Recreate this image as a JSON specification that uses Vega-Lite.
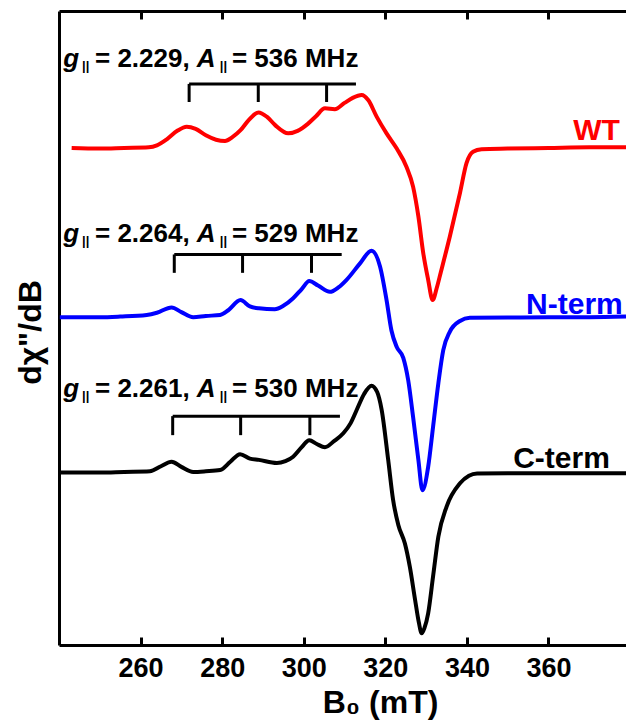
{
  "$schema": "https://vega.github.io/schema/vega-lite/v6.json",
  "width": 567,
  "height": 634,
  "autosize": {"type": "none"},
  "padding": {"left": 59, "top": 11, "right": 0, "bottom": 78},
  "config": {
    "view": {"stroke": null},
    "font": "Liberation Sans",
    "axis": {"grid": false, "domainColor": "black", "tickColor": "black", "labelColor": "black", "titleColor": "black"}
  },
  "datasets": {
    "spectra": [
      {"s": "WT", "B": 243.1, "I": 78.4}, {"s": "WT", "B": 250, "I": 78.3}, {"s": "WT", "B": 256, "I": 78.4}, {"s": "WT", "B": 262, "I": 78.5},
      {"s": "WT", "B": 264, "I": 78.8}, {"s": "WT", "B": 266.5, "I": 79.8}, {"s": "WT", "B": 269, "I": 81.1}, {"s": "WT", "B": 271.3, "I": 81.75},
      {"s": "WT", "B": 273.5, "I": 81.4}, {"s": "WT", "B": 276, "I": 80.4}, {"s": "WT", "B": 278.5, "I": 79.7}, {"s": "WT", "B": 280.7, "I": 79.5},
      {"s": "WT", "B": 282.5, "I": 80.1}, {"s": "WT", "B": 284.5, "I": 81.2}, {"s": "WT", "B": 286.5, "I": 82.8}, {"s": "WT", "B": 288.9, "I": 84.0},
      {"s": "WT", "B": 291, "I": 83.3}, {"s": "WT", "B": 293, "I": 82.0}, {"s": "WT", "B": 296.2, "I": 80.7}, {"s": "WT", "B": 298.5, "I": 81.1},
      {"s": "WT", "B": 301, "I": 82.2}, {"s": "WT", "B": 303, "I": 83.4}, {"s": "WT", "B": 305.2, "I": 84.65}, {"s": "WT", "B": 307.6, "I": 84.5},
      {"s": "WT", "B": 310, "I": 85.5}, {"s": "WT", "B": 312, "I": 86.3}, {"s": "WT", "B": 314.2, "I": 86.75}, {"s": "WT", "B": 315.8, "I": 85.95},
      {"s": "WT", "B": 317.9, "I": 83.3}, {"s": "WT", "B": 320.3, "I": 80.7}, {"s": "WT", "B": 322.8, "I": 78.3}, {"s": "WT", "B": 325.2, "I": 75.4},
      {"s": "WT", "B": 326.8, "I": 72.3}, {"s": "WT", "B": 328.1, "I": 67.6}, {"s": "WT", "B": 329.3, "I": 61.8}, {"s": "WT", "B": 330.5, "I": 57.6},
      {"s": "WT", "B": 331.6, "I": 54.4}, {"s": "WT", "B": 332.6, "I": 56.3}, {"s": "WT", "B": 333.6, "I": 58.8}, {"s": "WT", "B": 335.8, "I": 64.4},
      {"s": "WT", "B": 338.3, "I": 71.3}, {"s": "WT", "B": 339.9, "I": 76.0}, {"s": "WT", "B": 341.5, "I": 77.8}, {"s": "WT", "B": 343.6, "I": 78.2},
      {"s": "WT", "B": 350, "I": 78.3}, {"s": "WT", "B": 360, "I": 78.4}, {"s": "WT", "B": 370, "I": 78.5}, {"s": "WT", "B": 379, "I": 78.5},

      {"s": "N-term", "B": 240.2, "I": 51.7}, {"s": "N-term", "B": 250, "I": 51.7}, {"s": "N-term", "B": 255, "I": 51.8}, {"s": "N-term", "B": 261.5, "I": 52.05},
      {"s": "N-term", "B": 264, "I": 52.4}, {"s": "N-term", "B": 267.6, "I": 53.25}, {"s": "N-term", "B": 270, "I": 52.5}, {"s": "N-term", "B": 272.9, "I": 51.7},
      {"s": "N-term", "B": 276, "I": 51.9}, {"s": "N-term", "B": 279.5, "I": 52.05}, {"s": "N-term", "B": 281.5, "I": 52.8}, {"s": "N-term", "B": 284.5, "I": 54.4},
      {"s": "N-term", "B": 286.8, "I": 53.4}, {"s": "N-term", "B": 289, "I": 53.1}, {"s": "N-term", "B": 292.9, "I": 52.95}, {"s": "N-term", "B": 295, "I": 53.5},
      {"s": "N-term", "B": 297.4, "I": 54.7}, {"s": "N-term", "B": 299.5, "I": 56.15}, {"s": "N-term", "B": 301.35, "I": 57.4}, {"s": "N-term", "B": 303.5, "I": 56.7},
      {"s": "N-term", "B": 306.4, "I": 55.7}, {"s": "N-term", "B": 308.5, "I": 56.4}, {"s": "N-term", "B": 310.5, "I": 57.6}, {"s": "N-term", "B": 313.8, "I": 60.2},
      {"s": "N-term", "B": 316.6, "I": 62.2}, {"s": "N-term", "B": 318.7, "I": 59.7}, {"s": "N-term", "B": 320.3, "I": 54.4}, {"s": "N-term", "B": 321.5, "I": 49.6},
      {"s": "N-term", "B": 322.8, "I": 47.0}, {"s": "N-term", "B": 324.4, "I": 45.3}, {"s": "N-term", "B": 325.6, "I": 41.8}, {"s": "N-term", "B": 326.8, "I": 36.0},
      {"s": "N-term", "B": 328.1, "I": 29.2}, {"s": "N-term", "B": 329.1, "I": 24.4}, {"s": "N-term", "B": 330.5, "I": 28.1}, {"s": "N-term", "B": 331.7, "I": 34.4},
      {"s": "N-term", "B": 333.0, "I": 41.3}, {"s": "N-term", "B": 334.2, "I": 46.5}, {"s": "N-term", "B": 335.8, "I": 49.4}, {"s": "N-term", "B": 338.3, "I": 51.1},
      {"s": "N-term", "B": 340.7, "I": 51.6}, {"s": "N-term", "B": 350, "I": 51.65}, {"s": "N-term", "B": 360, "I": 51.7}, {"s": "N-term", "B": 370, "I": 51.7},
      {"s": "N-term", "B": 379, "I": 51.8},

      {"s": "C-term", "B": 240.2, "I": 27.2}, {"s": "C-term", "B": 250, "I": 27.2}, {"s": "C-term", "B": 256, "I": 27.3}, {"s": "C-term", "B": 262.3, "I": 27.4},
      {"s": "C-term", "B": 265, "I": 28.2}, {"s": "C-term", "B": 267.6, "I": 28.9}, {"s": "C-term", "B": 270, "I": 28.1}, {"s": "C-term", "B": 272.9, "I": 27.3},
      {"s": "C-term", "B": 276, "I": 27.4}, {"s": "C-term", "B": 279.5, "I": 27.6}, {"s": "C-term", "B": 282, "I": 28.9}, {"s": "C-term", "B": 284.4, "I": 30.1},
      {"s": "C-term", "B": 286.8, "I": 29.4}, {"s": "C-term", "B": 289, "I": 29.2}, {"s": "C-term", "B": 293.4, "I": 28.7}, {"s": "C-term", "B": 295.5, "I": 29.0},
      {"s": "C-term", "B": 297.4, "I": 29.7}, {"s": "C-term", "B": 299.5, "I": 31.2}, {"s": "C-term", "B": 301.35, "I": 32.3}, {"s": "C-term", "B": 303.2, "I": 31.7},
      {"s": "C-term", "B": 305.2, "I": 31.2}, {"s": "C-term", "B": 307.5, "I": 32.2}, {"s": "C-term", "B": 309.7, "I": 33.4}, {"s": "C-term", "B": 311.5, "I": 35.0},
      {"s": "C-term", "B": 313.0, "I": 37.1}, {"s": "C-term", "B": 314.8, "I": 39.6}, {"s": "C-term", "B": 316.6, "I": 40.9}, {"s": "C-term", "B": 318, "I": 39.9},
      {"s": "C-term", "B": 319.1, "I": 37.1}, {"s": "C-term", "B": 320.7, "I": 29.2}, {"s": "C-term", "B": 321.9, "I": 22.9}, {"s": "C-term", "B": 323.2, "I": 18.9},
      {"s": "C-term", "B": 324.8, "I": 16.0}, {"s": "C-term", "B": 326.0, "I": 12.35}, {"s": "C-term", "B": 327.3, "I": 7.1}, {"s": "C-term", "B": 328.2, "I": 3.6},
      {"s": "C-term", "B": 328.9, "I": 1.85}, {"s": "C-term", "B": 329.6, "I": 2.7}, {"s": "C-term", "B": 330.5, "I": 5.0}, {"s": "C-term", "B": 331.7, "I": 10.8},
      {"s": "C-term", "B": 333.0, "I": 17.1}, {"s": "C-term", "B": 335.0, "I": 21.8}, {"s": "C-term", "B": 338.3, "I": 25.5}, {"s": "C-term", "B": 340.5, "I": 26.7},
      {"s": "C-term", "B": 342.5, "I": 27.05}, {"s": "C-term", "B": 350, "I": 27.1}, {"s": "C-term", "B": 360, "I": 27.1}, {"s": "C-term", "B": 370, "I": 27.1},
      {"s": "C-term", "B": 379, "I": 27.1}
    ],
    "brackets": [
      {"x": 271.9, "x2": 312.8, "y": 88.5, "y2": 88.5},
      {"x": 271.9, "x2": 271.9, "y": 88.5, "y2": 85.65},
      {"x": 288.85, "x2": 288.85, "y": 88.5, "y2": 85.65},
      {"x": 305.6, "x2": 305.6, "y": 88.5, "y2": 85.65},
      {"x": 268.26, "x2": 309.3, "y": 61.6, "y2": 61.6},
      {"x": 268.26, "x2": 268.26, "y": 61.6, "y2": 58.7},
      {"x": 285.0, "x2": 285.0, "y": 61.6, "y2": 58.7},
      {"x": 301.9, "x2": 301.9, "y": 61.6, "y2": 58.7},
      {"x": 267.87, "x2": 308.87, "y": 36.1, "y2": 36.1},
      {"x": 267.87, "x2": 267.87, "y": 36.1, "y2": 33.1},
      {"x": 284.53, "x2": 284.53, "y": 36.1, "y2": 33.1},
      {"x": 301.5, "x2": 301.5, "y": 36.1, "y2": 33.1}
    ],
    "annot": [
      {"t": "g", "x": 241.05, "y": 91.2, "part": "ital"},
      {"t": "||", "x": 245.64, "y": 91.2, "part": "sub"},
      {"t": "= 2.229,", "x": 248.82, "y": 91.2, "part": "main"},
      {"t": "A", "x": 273.75, "y": 91.2, "part": "ital"},
      {"t": "||", "x": 279.41, "y": 91.2, "part": "sub"},
      {"t": "= 536 MHz", "x": 282.4, "y": 91.2, "part": "main"},
      {"t": "g", "x": 241.05, "y": 63.6, "part": "ital"},
      {"t": "||", "x": 245.64, "y": 63.6, "part": "sub"},
      {"t": "= 2.264,", "x": 248.82, "y": 63.6, "part": "main"},
      {"t": "A", "x": 273.75, "y": 63.6, "part": "ital"},
      {"t": "||", "x": 279.41, "y": 63.6, "part": "sub"},
      {"t": "= 529 MHz", "x": 282.4, "y": 63.6, "part": "main"},
      {"t": "g", "x": 241.05, "y": 39.1, "part": "ital"},
      {"t": "||", "x": 245.64, "y": 39.1, "part": "sub"},
      {"t": "= 2.261,", "x": 248.82, "y": 39.1, "part": "main"},
      {"t": "A", "x": 273.75, "y": 39.1, "part": "ital"},
      {"t": "||", "x": 279.41, "y": 39.1, "part": "sub"},
      {"t": "= 530 MHz", "x": 282.4, "y": 39.1, "part": "main"}
    ],
    "labels": [
      {"t": "WT", "s": "WT", "x": 377.5, "y": 79.65},
      {"t": "N-term", "s": "N-term", "x": 378.2, "y": 52.2},
      {"t": "C-term", "s": "C-term", "x": 375.05, "y": 27.9}
    ]
  },
  "resolve": {"axis": {"x": "independent", "y": "independent"}},
  "layer": [
    {
      "data": {"name": "spectra"},
      "mark": {"type": "line", "strokeWidth": 4, "strokeJoin": "round", "interpolate": "monotone"},
      "encoding": {
        "x": {
          "field": "B", "type": "quantitative",
          "scale": {"domain": [240, 379], "nice": false, "zero": false},
          "axis": {
            "orient": "bottom", "values": [260, 280, 300, 320, 340, 360],
            "domainWidth": 3, "tickWidth": 3, "tickSize": -8,
            "labelFontSize": 27, "labelFontWeight": "bold", "labelPadding": 18,
            "title": "B₀ (mT)", "titleFontSize": 32, "titleFontWeight": "bold",
            "titleX": 321, "titleY": 67, "titleBaseline": "alphabetic", "titleAlign": "center"
          }
        },
        "y": {
          "field": "I", "type": "quantitative",
          "scale": {"domain": [0, 100], "nice": false, "zero": false},
          "axis": {
            "orient": "left", "ticks": false, "labels": false, "domainWidth": 3,
            "title": "dχ\"/dB", "titleFontSize": 32, "titleFontWeight": "bold",
            "titleAngle": -90, "titleX": -19, "titleY": 321, "titleBaseline": "alphabetic", "titleAlign": "center"
          }
        },
        "color": {
          "field": "s", "type": "nominal",
          "scale": {"domain": ["WT", "N-term", "C-term"], "range": ["#ff0000", "#0000ff", "#000000"]},
          "legend": null
        }
      }
    },
    {
      "data": {"name": "brackets"},
      "mark": {"type": "rule", "strokeWidth": 3, "color": "black"},
      "encoding": {
        "x": {
          "field": "x", "type": "quantitative",
          "axis": {
            "orient": "top", "values": [260, 280, 300, 320, 340, 360], "labels": false,
            "domainWidth": 3, "tickWidth": 3, "tickSize": -8, "title": null
          }
        },
        "x2": {"field": "x2"},
        "y": {"field": "y", "type": "quantitative", "axis": null},
        "y2": {"field": "y2"}
      }
    },
    {
      "data": {"name": "annot"},
      "transform": [{"filter": "datum.part === 'main'"}],
      "mark": {"type": "text", "align": "left", "baseline": "alphabetic", "fontSize": 26, "fontWeight": "bold", "color": "black"},
      "encoding": {
        "x": {"field": "x", "type": "quantitative", "axis": null},
        "y": {"field": "y", "type": "quantitative", "axis": null},
        "text": {"field": "t"}
      }
    },
    {
      "data": {"name": "annot"},
      "transform": [{"filter": "datum.part === 'ital'"}],
      "mark": {"type": "text", "align": "left", "baseline": "alphabetic", "fontSize": 26, "fontWeight": "bold", "fontStyle": "italic", "color": "black"},
      "encoding": {
        "x": {"field": "x", "type": "quantitative", "axis": null},
        "y": {"field": "y", "type": "quantitative", "axis": null},
        "text": {"field": "t"}
      }
    },
    {
      "data": {"name": "annot"},
      "transform": [{"filter": "datum.part === 'sub'"}],
      "mark": {"type": "text", "align": "left", "baseline": "alphabetic", "fontSize": 13, "fontWeight": "bold", "dy": 3, "color": "black"},
      "encoding": {
        "x": {"field": "x", "type": "quantitative", "axis": null},
        "y": {"field": "y", "type": "quantitative", "axis": null},
        "text": {"field": "t"}
      }
    },
    {
      "data": {"name": "labels"},
      "mark": {"type": "text", "align": "right", "baseline": "alphabetic", "fontSize": 30, "fontWeight": "bold"},
      "encoding": {
        "x": {"field": "x", "type": "quantitative", "axis": null},
        "y": {"field": "y", "type": "quantitative", "axis": null},
        "text": {"field": "t"},
        "color": {"field": "s", "type": "nominal", "legend": null}
      }
    }
  ]
}
